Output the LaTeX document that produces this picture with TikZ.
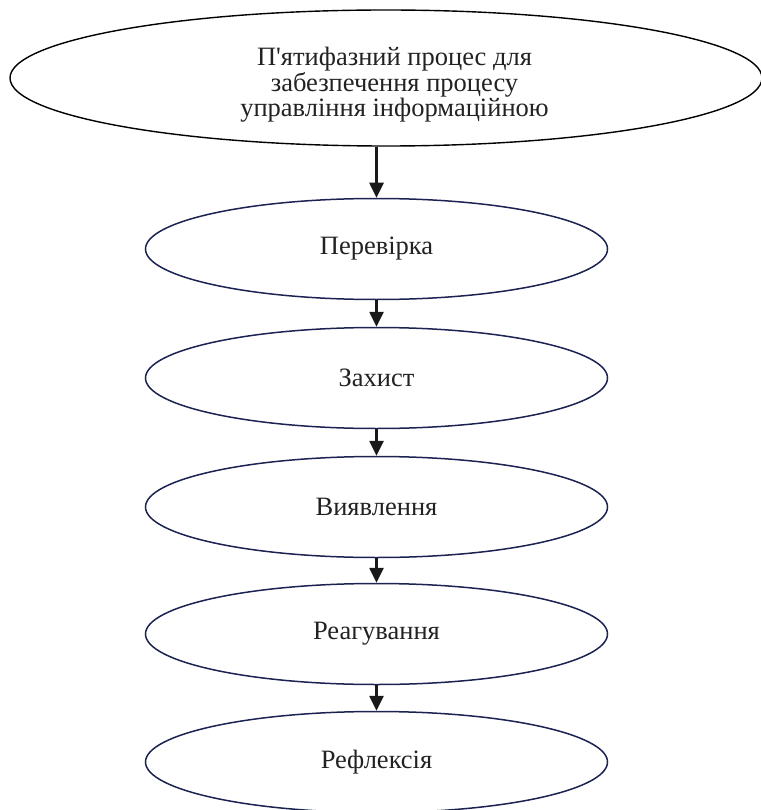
\documentclass[tikz,border=0pt]{standalone}
\usepackage{fontspec}
\setmainfont{Liberation Serif}
\usetikzlibrary{shapes.geometric,arrows.meta}
\definecolor{navy}{RGB}{28,34,82}
\definecolor{txt}{RGB}{34,34,34}
\begin{document}
\begin{tikzpicture}[x=1pt,y=-1pt,
  phase/.style={ellipse,draw=navy,line width=1.5pt,inner sep=0pt,minimum width=462pt,minimum height=101pt,font=\fontsize{26.5}{25.5}\selectfont,text=txt},
  topell/.style={ellipse,draw=black,line width=1.4pt,inner sep=0pt,minimum width=752pt,minimum height=136pt},
  flow/.style={draw=black!90,line width=2.6pt,-{Triangle[width=14pt,length=15pt]}}]
\useasboundingbox (0,0) rectangle (760,810);
\node[topell] (t) at (386,78) {};
\node[text=txt,font=\fontsize{26.5}{25.5}\selectfont,align=center,inner sep=0pt,anchor=base] (tt) at (394.5,117) {П\textquotesingle ятифазний процес для\\забезпечення процесу\\управління інформаційною};
\node[phase] (a) at (376.5,249) {Перевірка};
\node[phase] (b) at (376.5,378) {Захист};
\node[phase] (c) at (376.5,507) {Виявлення};
\node[phase] (d) at (376.5,634) {Реагування};
\node[phase] (e) at (376.5,762) {Рефлексія};
\draw[flow] (a.north |- t.south) -- (a.north);
\draw[flow] (a.south) -- (b.north);
\draw[flow] (b.south) -- (c.north);
\draw[flow] (c.south) -- (d.north);
\draw[flow] (d.south) -- (e.north);
\end{tikzpicture}
\end{document}
